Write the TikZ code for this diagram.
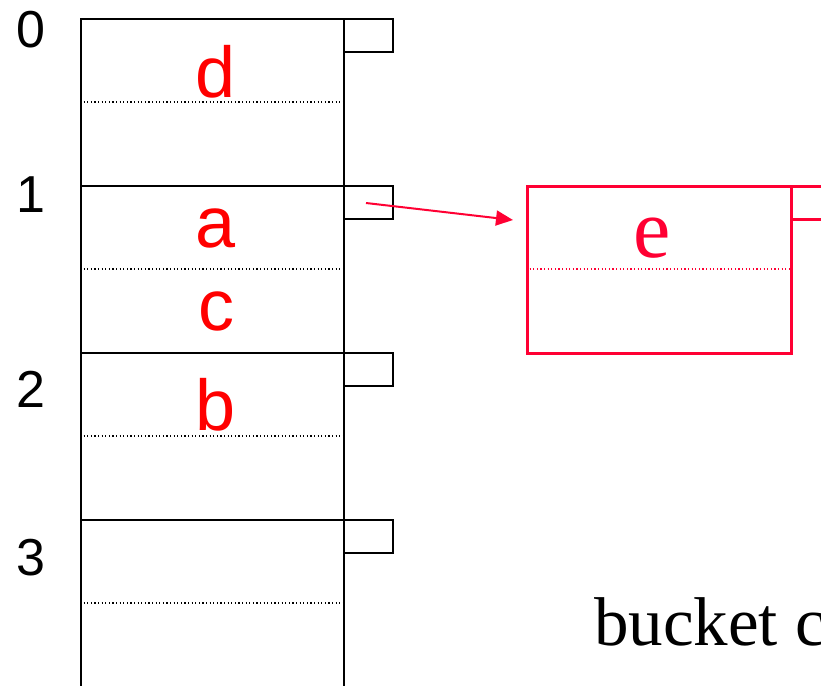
\documentclass[tikz,border=0pt]{standalone}
\usepackage{fontspec}
\usetikzlibrary{arrows.meta}
\newfontfamily\armfont{Liberation Sans}
\newfontfamily\timesfont{Liberation Serif}
\definecolor{chainred}{HTML}{FF0033}
\tikzset{
  bucketbox/.style={draw, line width=2pt, minimum width=263pt, minimum height=167pt,
    inner sep=0pt, anchor=north west},
  ptrbox/.style={draw, line width=2pt, minimum width=49pt, minimum height=33pt,
    inner sep=0pt, anchor=north west},
  slotline/.style={line width=1.4pt, dash pattern=on 1.2pt off 2.4pt},
  keytext/.style={text=red, font=\armfont\fontsize{72}{86}\selectfont, anchor=base, inner sep=0pt},
  idxtext/.style={font=\armfont\fontsize{52}{62}\selectfont, anchor=base, inner sep=0pt},
  chainbox/.style={draw=chainred, line width=2.5pt, minimum width=264pt, minimum height=167pt,
    inner sep=0pt, anchor=north west},
}
\begin{document}
\begin{tikzpicture}[x=1pt,y=-1pt]
  \useasboundingbox (0,0) rectangle (821,685);
  \clip (0,0) rectangle (821,685);
  % primary bucket array
  \foreach \i in {0,1,2,3} {
    \node[bucketbox] (b\i) at (80,{18+167*\i}) {};
    \node[ptrbox] (p\i) at (343,{18+167*\i}) {};
    \draw[slotline] ([yshift=-84pt]b\i.north west) -- ([yshift=-84pt]b\i.north east);
  }
  % bucket indices
  \node[idxtext] (i0) at (31,48) {0};
  \node[idxtext] (i1) at (31,212) {1};
  \node[idxtext] (i2) at (31,407) {2};
  \node[idxtext] (i3) at (31,575) {3};
  % keys stored in the buckets
  \node[keytext] (kd) at (216,97) {d};
  \node[keytext] (ka) at (216,247) {a};
  \node[keytext] (kc) at (216,330) {c};
  \node[keytext] (kb) at (216,430) {b};
  % overflow bucket chained from bucket 1
  \node[chainbox] (ov) at (526,185) {};
  \node[draw=chainred, line width=2.5pt, minimum width=49pt, minimum height=33pt,
    inner sep=0pt, anchor=north west] (ovp) at (790,185) {};
  \draw[chainred, line width=1.4pt, dash pattern=on 1.2pt off 2.4pt]
    ([yshift=-84pt]ov.north west) -- ([yshift=-84pt]ov.north east);
  \node[text=chainred, font=\timesfont\fontsize{84}{100}\selectfont, anchor=base, inner sep=0pt]
    (ke) at (652,257) {e};
  \coordinate (ptr1) at (366,203);
  \draw[chainred, line width=2pt, -{Triangle[length=17pt,width=15pt]}]
    (ptr1) -- ([xshift=-13pt,yshift=-35pt]ov.north west);
  % caption
  \node[font=\timesfont\fontsize{69}{83}\selectfont, anchor=base west, inner sep=0pt]
    (cap) at (594,645) {bucket chains};
\end{tikzpicture}
\end{document}
